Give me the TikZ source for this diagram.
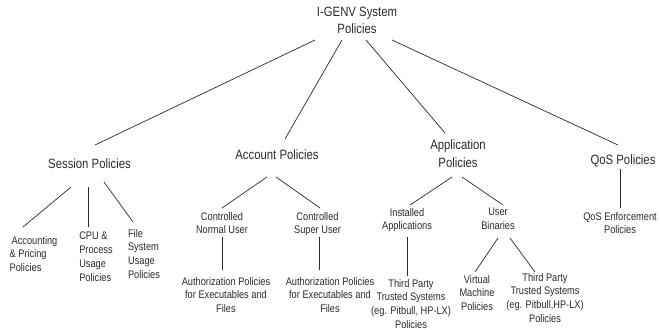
\documentclass[tikz,border=0pt]{standalone}
\usepackage{fontspec}
\setmainfont[FakeStretch=0.84]{Liberation Sans}
\usetikzlibrary{calc}
\definecolor{ink}{HTML}{2A2A2A}
\begin{document}
\begin{tikzpicture}[x=1pt,y=-1pt,
  big/.style={inner sep=0pt,anchor=north,align=center,text=ink,font=\fontsize{13.5}{17.5}\selectfont},
  small/.style={inner sep=0pt,anchor=north,align=center,text=ink,font=\fontsize{11}{13.8}\selectfont},
  smallleft/.style={small,align=left},
  conn/.style={draw=ink,line width=0.7pt}]
\useasboundingbox (0,0) rectangle (660,329);
% main nodes
\node[big] (root) at (357,6.5) {I-GENV System\\Policies};
\node[big] (sess) at (89.5,159) {Session Policies};
\node[big] (acct) at (277,150) {Account Policies};
\node[big] (app) at (458,140) {Application\\Policies};
\node[big] (qos) at (623,155) {QoS Policies};
% session children
\node[smallleft] (acc) at (33.5,236) {\hspace{2pt}Accounting\\\& Pricing\\Policies};
\node[smallleft] (cpu) at (96,232) {CPU \&\\Process\\Usage\\Policies};
\node[smallleft] (file) at (144,229) {File\\System\\Usage\\Policies};
% account children
\node[small] (cnu) at (222,212) {Controlled\\Normal User};
\node[small] (csu) at (317.5,212) {Controlled\\Super User};
\node[small] (auth1) at (226,277) {Authorization Policies\\for Executables and\\Files};
\node[small] (auth2) at (330,277) {Authorization Policies\\for Executables and\\Files};
% application children
\node[small] (inst) at (407,208) {Installed\\Applications};
\node[small] (bin) at (498,208) {User\\Binaries};
\node[small] (tp1) at (411,279) {Third Party\\Trusted Systems\\(eg. Pitbull, HP-LX)\\Policies};
\node[small] (vm) at (477,275) {Virtual\\Machine\\Policies};
\node[small] (tp2) at (545,273) {Third Party\\Trusted Systems\\(eg. Pitbull,HP-LX)\\Policies};
% qos child
\node[small] (qe) at (620,212) {QoS Enforcement\\Policies};
% connectors
\draw[conn] ($(root.north)+(-42,33.5)$) -- ($(sess.north)+(5.5,-14)$);
\draw[conn] ($(root.north)+(-15,33.5)$) -- ($(acct.north)+(8,-11)$);
\draw[conn] ($(root.north)+(9,33.5)$) -- ($(app.north)+(-13,-7)$);
\draw[conn] ($(root.north)+(35,33.5)$) -- ($(qos.north)+(-5,-10)$);
\draw[conn] ($(sess.north)+(-18.5,28)$) -- ($(acc.north)+(-10.5,-9)$);
\draw[conn] ($(sess.north)+(-1.5,28)$) -- ($(cpu.north)+(-8,-5)$);
\draw[conn] ($(sess.north)+(14.5,23)$) -- ($(file.north)+(-11,-7)$);
\draw[conn] ($(acct.north)+(-10,27)$) -- ($(cnu.north)+(0,-4)$);
\draw[conn] ($(acct.north)+(-1,27)$) -- ($(csu.north)+(2.5,-4)$);
\draw[conn] ($(cnu.north)+(0,25)$) -- ($(auth1.north)+(-4,-7)$);
\draw[conn] ($(csu.north)+(1.5,25)$) -- ($(auth2.north)+(-11,-7)$);
\draw[conn] ($(app.north)+(-6,37)$) -- ($(inst.north)+(3,-3)$);
\draw[conn] ($(app.north)+(4,37)$) -- ($(bin.north)+(5,-3)$);
\draw[conn] ($(inst.north)+(0,29)$) -- ($(tp1.north)+(-4,-3)$);
\draw[conn] ($(bin.north)+(0,30)$) -- ($(vm.north)+(-2,-3)$);
\draw[conn] ($(bin.north)+(12,30)$) -- ($(tp2.north)+(-10,-1)$);
\draw[conn] ($(qos.north)+(-3,14)$) -- ($(qe.north)+(0,-4)$);
\end{tikzpicture}
\end{document}
